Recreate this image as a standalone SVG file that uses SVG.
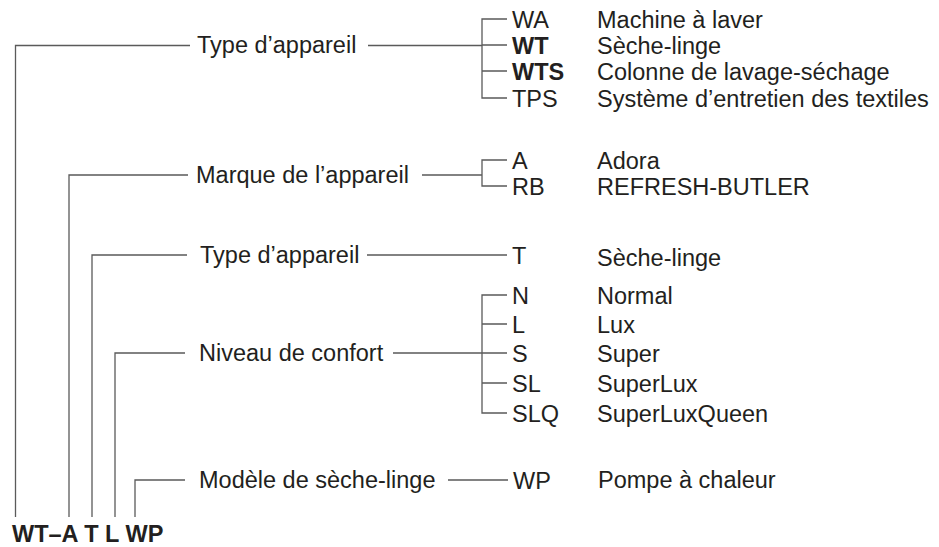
<svg xmlns="http://www.w3.org/2000/svg" width="939" height="547" viewBox="0 0 939 547">
<style>
  .ln { stroke: #5a5a5a; stroke-width: 1.3; fill: none; }
  text { font-family: "Liberation Sans", Arial, Helvetica, sans-serif; font-size: 23.5px; fill: #231f20; }
  .b { font-weight: bold; }
</style>
<rect width="939" height="547" fill="#ffffff"/>
<g id="connectors">
  <path class="ln" d="M15.5,517 V45.5 H190 M368,45.5 H482"/>
  <path class="ln" d="M507,19 H482 V98 H507 M482,45 H507 M482,71 H507"/>
  <path class="ln" d="M69,517 V175 H188 M422,175 H482"/>
  <path class="ln" d="M507,160 H482 V186 H507"/>
  <path class="ln" d="M92,517 V255 H187 M367,255 H507"/>
  <path class="ln" d="M115,517 V353 H185 M393,353 H482"/>
  <path class="ln" d="M507,295 H482 V413 H507 M482,324 H507 M482,353 H507 M482,383 H507"/>
  <path class="ln" d="M135,517 V480 H185 M448,480 H508"/>
</g>
<g id="type-appareil">
  <text x="197" y="53">Type d’appareil</text>
  <text x="512" y="28">WA</text><text x="597" y="28">Machine à laver</text>
  <text x="512" y="54" class="b">WT</text><text x="597" y="54">Sèche-linge</text>
  <text x="512" y="80" class="b">WTS</text><text x="597" y="80">Colonne de lavage-séchage</text>
  <text x="512" y="107">TPS</text><text x="597" y="107">Système d’entretien des textiles</text>
</g>
<g id="marque">
  <text x="196" y="183">Marque de l’appareil</text>
  <text x="512" y="169">A</text><text x="597" y="169">Adora</text>
  <text x="512" y="195">RB</text><text x="597" y="195">REFRESH-BUTLER</text>
</g>
<g id="type-appareil-2">
  <text x="200" y="263">Type d’appareil</text>
  <text x="512" y="264">T</text><text x="597" y="266">Sèche-linge</text>
</g>
<g id="niveau-confort">
  <text x="199" y="361">Niveau de confort</text>
  <text x="512" y="304">N</text><text x="597" y="304">Normal</text>
  <text x="512" y="333">L</text><text x="597" y="333">Lux</text>
  <text x="512" y="362">S</text><text x="597" y="362">Super</text>
  <text x="512" y="392">SL</text><text x="597" y="392">SuperLux</text>
  <text x="512" y="422">SLQ</text><text x="597" y="422">SuperLuxQueen</text>
</g>
<g id="modele">
  <text x="199" y="488">Modèle de sèche-linge</text>
  <text x="513" y="489">WP</text><text x="598" y="488">Pompe à chaleur</text>
</g>
<g id="code">
  <text x="12" y="542" class="b">WT–A T L WP</text>
</g>
</svg>
